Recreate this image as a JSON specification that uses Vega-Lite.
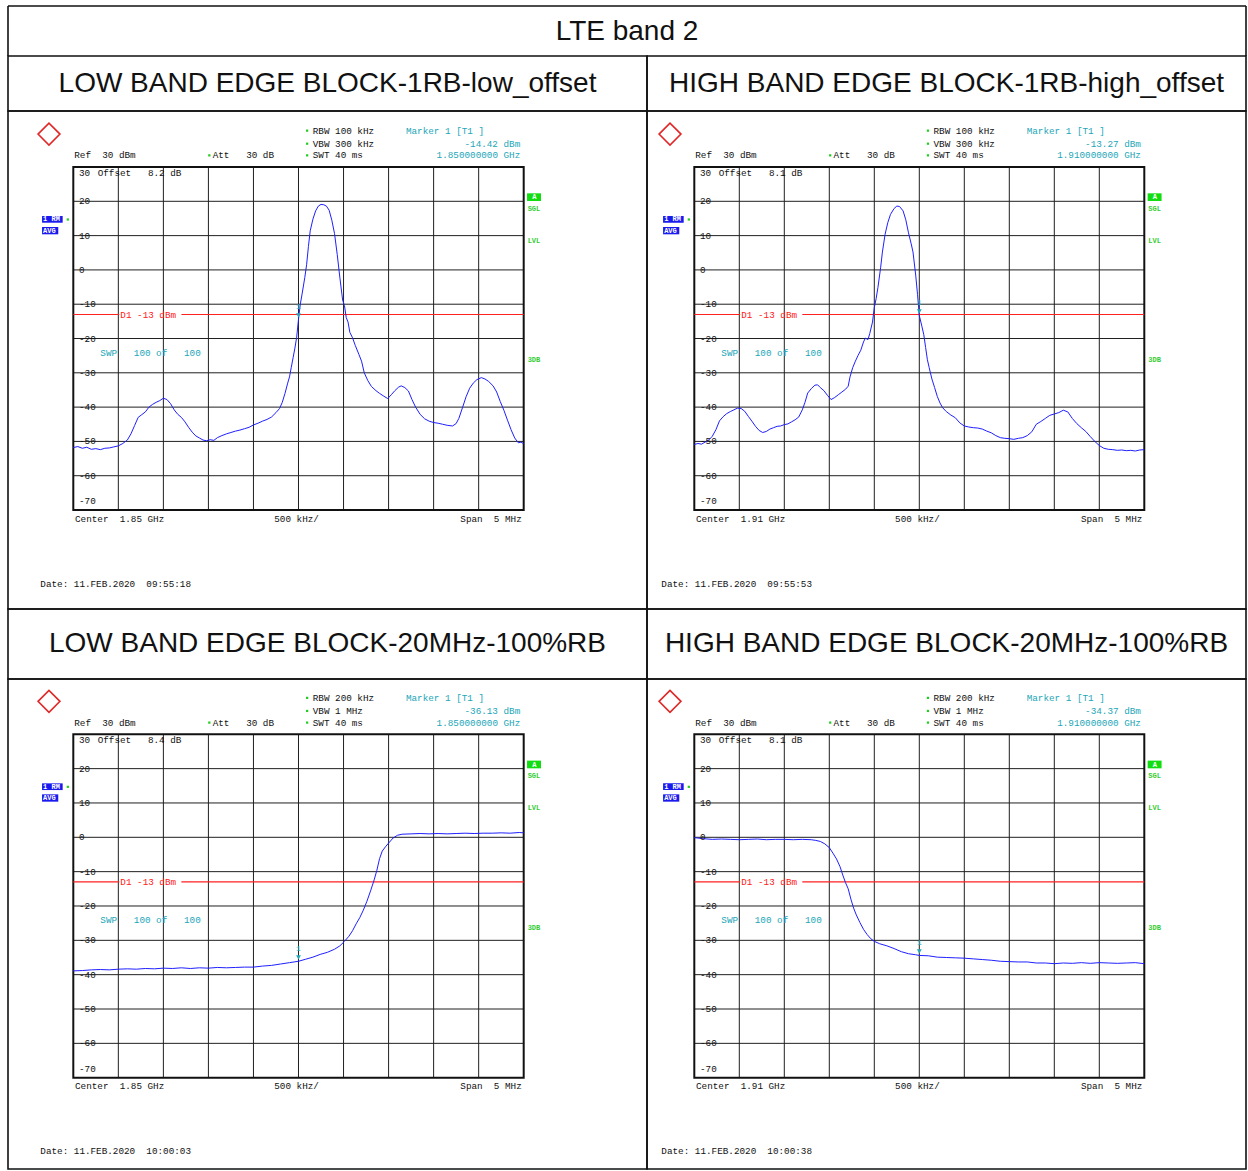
{
"$schema": "https://vega.github.io/schema/vega-lite/v6.json",
"padding": {"left": 7, "top": 5, "right": 3, "bottom": 3},
"background": "white",
"config": {"view": {"stroke": "#111111", "strokeWidth": 1.6}, "concat": {"spacing": 0}, "axis": {"disable": true}},
"datasets": {
"vlines": [{"f":-2.0},{"f":-1.5},{"f":-1.0},{"f":-0.5},{"f":0},{"f":0.5},{"f":1.0},{"f":1.5},{"f":2.0}],
"hlines": [{"L":20},{"L":10},{"L":0},{"L":-10},{"L":-20},{"L":-30},{"L":-40},{"L":-50},{"L":-60}],
"ylabels": [{"L":28.2,"lab":"30"},{"L":20,"lab":"20"},{"L":10,"lab":"10"},{"L":0,"lab":"0"},{"L":-10,"lab":"-10"},{"L":-20,"lab":"-20"},{"L":-30,"lab":"-30"},{"L":-40,"lab":"-40"},{"L":-50,"lab":"-50"},{"L":-60,"lab":"-60"},{"L":-67.4,"lab":"-70"}],
"limit": [{"f":-2.5,"f2":-1.99},{"f":-1.30,"f2":2.5}],
"boxes": [{"kind":"boxBlue","f":-2.847,"f2":-2.618,"L":15.71,"L2":13.76},{"kind":"boxBlue","f":-2.847,"f2":-2.667,"L":12.51,"L2":10.38},{"kind":"boxGreen","f":2.537,"f2":2.692,"L":22.33,"L2":20.09}],
"dots": [{"f":0.096,"L":40.6},{"f":0.096,"L":36.8},{"f":0.096,"L":33.4},{"f":-0.99,"L":33.4},{"f":-2.561,"L":14.7}],
"logo": [{"f":-2.77,"L":39.6}],
"notes": [
{"p":"all","kind":"ink","f":-2.489,"L":33.4,"text":"Ref\u00a0\u00a030 dBm"},
{"p":"all","kind":"ink","f":-0.953,"L":33.4,"text":"Att\u00a0\u00a0\u00a030 dB"},
{"p":"all","kind":"ink","f":0.158,"L":33.4,"text":"SWT 40 ms"},
{"p":"all","kind":"ink","f":-0.269,"L":-72.5,"text":"500 kHz/"},
{"p":"all","kind":"inkR","f":2.478,"L":-72.5,"text":"Span\u00a0\u00a05 MHz"},
{"p":"all","kind":"cyan","f":1.193,"L":40.6,"text":"Marker 1 [T1 ]"},
{"p":"all","kind":"cyan","f":-2.2,"L":-24.1,"text":"SWP\u00a0\u00a0\u00a0100 of\u00a0\u00a0\u00a0100"},
{"p":"all","kind":"red","f":-1.978,"L":-13,"text":"D1 -13 dBm"},
{"p":"all","kind":"green","f":2.544,"L":17.84,"text":"SGL"},
{"p":"all","kind":"green","f":2.544,"L":8.43,"text":"LVL"},
{"p":"all","kind":"green","f":2.544,"L":-26.3,"text":"3DB"},
{"p":"all","kind":"white","f":-2.835,"L":14.7,"text":"1 RM"},
{"p":"all","kind":"white","f":-2.835,"L":11.45,"text":"AVG"},
{"p":"all","kind":"white","f":2.595,"L":21.2,"text":"A"},
{"p":"TL","kind":"ink","f":0.158,"L":40.6,"text":"RBW 100 kHz"},
{"p":"TL","kind":"ink","f":0.158,"L":36.8,"text":"VBW 300 kHz"},
{"p":"TL","kind":"ink","f":-2.229,"L":28.2,"text":"Offset\u00a0\u00a0\u00a08.2 dB"},
{"p":"TL","kind":"ink","f":-2.481,"L":-72.5,"text":"Center\u00a0\u00a01.85 GHz"},
{"p":"TL","kind":"ink","f":-2.866,"L":-91.6,"text":"Date: 11.FEB.2020\u00a0\u00a009:55:18"},
{"p":"TL","kind":"cyanR","f":2.462,"L":36.8,"text":"-14.42 dBm"},
{"p":"TL","kind":"cyanR","f":2.462,"L":33.4,"text":"1.850000000 GHz"},
{"p":"TR","kind":"ink","f":0.158,"L":40.6,"text":"RBW 100 kHz"},
{"p":"TR","kind":"ink","f":0.158,"L":36.8,"text":"VBW 300 kHz"},
{"p":"TR","kind":"ink","f":-2.229,"L":28.2,"text":"Offset\u00a0\u00a0\u00a08.1 dB"},
{"p":"TR","kind":"ink","f":-2.481,"L":-72.5,"text":"Center\u00a0\u00a01.91 GHz"},
{"p":"TR","kind":"ink","f":-2.866,"L":-91.6,"text":"Date: 11.FEB.2020\u00a0\u00a009:55:53"},
{"p":"TR","kind":"cyanR","f":2.462,"L":36.8,"text":"-13.27 dBm"},
{"p":"TR","kind":"cyanR","f":2.462,"L":33.4,"text":"1.910000000 GHz"},
{"p":"BL","kind":"ink","f":0.158,"L":40.6,"text":"RBW 200 kHz"},
{"p":"BL","kind":"ink","f":0.158,"L":36.8,"text":"VBW 1 MHz"},
{"p":"BL","kind":"ink","f":-2.229,"L":28.2,"text":"Offset\u00a0\u00a0\u00a08.4 dB"},
{"p":"BL","kind":"ink","f":-2.481,"L":-72.5,"text":"Center\u00a0\u00a01.85 GHz"},
{"p":"BL","kind":"ink","f":-2.866,"L":-91.4,"text":"Date: 11.FEB.2020\u00a0\u00a010:00:03"},
{"p":"BL","kind":"cyanR","f":2.462,"L":36.8,"text":"-36.13 dBm"},
{"p":"BL","kind":"cyanR","f":2.462,"L":33.4,"text":"1.850000000 GHz"},
{"p":"BR","kind":"ink","f":0.158,"L":40.6,"text":"RBW 200 kHz"},
{"p":"BR","kind":"ink","f":0.158,"L":36.8,"text":"VBW 1 MHz"},
{"p":"BR","kind":"ink","f":-2.229,"L":28.2,"text":"Offset\u00a0\u00a0\u00a08.1 dB"},
{"p":"BR","kind":"ink","f":-2.481,"L":-72.5,"text":"Center\u00a0\u00a01.91 GHz"},
{"p":"BR","kind":"ink","f":-2.866,"L":-91.4,"text":"Date: 11.FEB.2020\u00a0\u00a010:00:38"},
{"p":"BR","kind":"cyanR","f":2.462,"L":36.8,"text":"-34.37 dBm"},
{"p":"BR","kind":"cyanR","f":2.462,"L":33.4,"text":"1.910000000 GHz"}
],
"markers": [{"p":"TL","f":0,"L":-14.42},{"p":"TR","f":0,"L":-13.27},{"p":"BL","f":0,"L":-36.13},{"p":"BR","f":0,"L":-34.37}],
"traces": [
{"p":"TL","f":-2.50,"L":-51.8},{"p":"TL","f":-2.45,"L":-51.5},{"p":"TL","f":-2.40,"L":-52.0},{"p":"TL","f":-2.35,"L":-51.7},{"p":"TL","f":-2.30,"L":-52.3},{"p":"TL","f":-2.25,"L":-52.1},{"p":"TL","f":-2.20,"L":-52.4},{"p":"TL","f":-2.15,"L":-52.0},{"p":"TL","f":-2.10,"L":-51.9},{"p":"TL","f":-2.05,"L":-51.6},{"p":"TL","f":-2.00,"L":-51.3},{"p":"TL","f":-1.95,"L":-50.6},{"p":"TL","f":-1.90,"L":-49.6},{"p":"TL","f":-1.86,"L":-47.8},{"p":"TL","f":-1.82,"L":-45.4},{"p":"TL","f":-1.78,"L":-43.0},{"p":"TL","f":-1.74,"L":-42.2},{"p":"TL","f":-1.70,"L":-41.4},{"p":"TL","f":-1.66,"L":-40.0},{"p":"TL","f":-1.62,"L":-39.2},{"p":"TL","f":-1.58,"L":-38.6},{"p":"TL","f":-1.54,"L":-38.1},{"p":"TL","f":-1.50,"L":-37.4},{"p":"TL","f":-1.46,"L":-37.8},{"p":"TL","f":-1.42,"L":-39.0},{"p":"TL","f":-1.38,"L":-40.8},{"p":"TL","f":-1.34,"L":-42.1},{"p":"TL","f":-1.30,"L":-43.0},{"p":"TL","f":-1.26,"L":-44.3},{"p":"TL","f":-1.22,"L":-45.9},{"p":"TL","f":-1.18,"L":-47.3},{"p":"TL","f":-1.14,"L":-48.4},{"p":"TL","f":-1.10,"L":-49.0},{"p":"TL","f":-1.06,"L":-49.6},{"p":"TL","f":-1.02,"L":-49.8},{"p":"TL","f":-0.98,"L":-49.5},{"p":"TL","f":-0.94,"L":-49.7},{"p":"TL","f":-0.90,"L":-48.9},{"p":"TL","f":-0.85,"L":-48.3},{"p":"TL","f":-0.80,"L":-47.8},{"p":"TL","f":-0.75,"L":-47.4},{"p":"TL","f":-0.70,"L":-47.0},{"p":"TL","f":-0.65,"L":-46.7},{"p":"TL","f":-0.60,"L":-46.3},{"p":"TL","f":-0.55,"L":-45.9},{"p":"TL","f":-0.50,"L":-45.2},{"p":"TL","f":-0.45,"L":-44.7},{"p":"TL","f":-0.40,"L":-44.1},{"p":"TL","f":-0.35,"L":-43.6},{"p":"TL","f":-0.30,"L":-42.9},{"p":"TL","f":-0.25,"L":-41.6},{"p":"TL","f":-0.21,"L":-40.4},{"p":"TL","f":-0.18,"L":-38.6},{"p":"TL","f":-0.15,"L":-36.0},{"p":"TL","f":-0.12,"L":-33.0},{"p":"TL","f":-0.10,"L":-31.2},{"p":"TL","f":-0.08,"L":-28.4},{"p":"TL","f":-0.06,"L":-25.6},{"p":"TL","f":-0.04,"L":-22.8},{"p":"TL","f":-0.02,"L":-19.6},{"p":"TL","f":0.00,"L":-14.4},{"p":"TL","f":0.02,"L":-10.0},{"p":"TL","f":0.04,"L":-7.0},{"p":"TL","f":0.07,"L":-2.2},{"p":"TL","f":0.09,"L":1.5},{"p":"TL","f":0.11,"L":6.8},{"p":"TL","f":0.13,"L":11.4},{"p":"TL","f":0.16,"L":14.8},{"p":"TL","f":0.19,"L":17.2},{"p":"TL","f":0.22,"L":18.6},{"p":"TL","f":0.25,"L":19.1},{"p":"TL","f":0.28,"L":19.0},{"p":"TL","f":0.31,"L":18.6},{"p":"TL","f":0.34,"L":17.4},{"p":"TL","f":0.37,"L":14.5},{"p":"TL","f":0.40,"L":10.6},{"p":"TL","f":0.43,"L":4.5},{"p":"TL","f":0.46,"L":-2.4},{"p":"TL","f":0.49,"L":-8.8},{"p":"TL","f":0.51,"L":-10.4},{"p":"TL","f":0.53,"L":-13.9},{"p":"TL","f":0.55,"L":-15.2},{"p":"TL","f":0.57,"L":-18.2},{"p":"TL","f":0.60,"L":-19.8},{"p":"TL","f":0.63,"L":-22.0},{"p":"TL","f":0.67,"L":-24.6},{"p":"TL","f":0.70,"L":-26.6},{"p":"TL","f":0.73,"L":-30.0},{"p":"TL","f":0.77,"L":-32.3},{"p":"TL","f":0.81,"L":-34.0},{"p":"TL","f":0.86,"L":-35.2},{"p":"TL","f":0.90,"L":-36.0},{"p":"TL","f":0.94,"L":-36.7},{"p":"TL","f":0.99,"L":-37.5},{"p":"TL","f":1.03,"L":-36.4},{"p":"TL","f":1.07,"L":-35.2},{"p":"TL","f":1.11,"L":-34.2},{"p":"TL","f":1.14,"L":-33.8},{"p":"TL","f":1.18,"L":-34.3},{"p":"TL","f":1.22,"L":-35.3},{"p":"TL","f":1.26,"L":-37.8},{"p":"TL","f":1.30,"L":-40.0},{"p":"TL","f":1.35,"L":-42.1},{"p":"TL","f":1.40,"L":-43.4},{"p":"TL","f":1.45,"L":-44.1},{"p":"TL","f":1.50,"L":-44.5},{"p":"TL","f":1.55,"L":-44.7},{"p":"TL","f":1.60,"L":-45.0},{"p":"TL","f":1.65,"L":-45.3},{"p":"TL","f":1.71,"L":-45.5},{"p":"TL","f":1.75,"L":-44.8},{"p":"TL","f":1.78,"L":-43.3},{"p":"TL","f":1.82,"L":-40.2},{"p":"TL","f":1.86,"L":-37.0},{"p":"TL","f":1.90,"L":-34.5},{"p":"TL","f":1.94,"L":-33.0},{"p":"TL","f":1.98,"L":-32.0},{"p":"TL","f":2.03,"L":-31.4},{"p":"TL","f":2.07,"L":-31.8},{"p":"TL","f":2.11,"L":-32.5},{"p":"TL","f":2.16,"L":-33.8},{"p":"TL","f":2.20,"L":-35.6},{"p":"TL","f":2.24,"L":-38.4},{"p":"TL","f":2.28,"L":-40.9},{"p":"TL","f":2.32,"L":-43.8},{"p":"TL","f":2.36,"L":-46.6},{"p":"TL","f":2.40,"L":-49.0},{"p":"TL","f":2.44,"L":-50.4},{"p":"TL","f":2.47,"L":-50.2},{"p":"TL","f":2.50,"L":-50.7},
{"p":"TR","f":-2.50,"L":-50.9},{"p":"TR","f":-2.46,"L":-50.6},{"p":"TR","f":-2.42,"L":-50.8},{"p":"TR","f":-2.38,"L":-50.2},{"p":"TR","f":-2.34,"L":-49.6},{"p":"TR","f":-2.30,"L":-48.5},{"p":"TR","f":-2.26,"L":-46.6},{"p":"TR","f":-2.22,"L":-44.0},{"p":"TR","f":-2.18,"L":-42.8},{"p":"TR","f":-2.14,"L":-41.9},{"p":"TR","f":-2.10,"L":-41.3},{"p":"TR","f":-2.06,"L":-40.8},{"p":"TR","f":-2.02,"L":-40.3},{"p":"TR","f":-1.98,"L":-40.4},{"p":"TR","f":-1.94,"L":-41.2},{"p":"TR","f":-1.90,"L":-42.7},{"p":"TR","f":-1.86,"L":-44.1},{"p":"TR","f":-1.82,"L":-45.6},{"p":"TR","f":-1.78,"L":-46.8},{"p":"TR","f":-1.74,"L":-47.4},{"p":"TR","f":-1.70,"L":-47.1},{"p":"TR","f":-1.66,"L":-46.4},{"p":"TR","f":-1.62,"L":-46.0},{"p":"TR","f":-1.58,"L":-45.6},{"p":"TR","f":-1.54,"L":-45.5},{"p":"TR","f":-1.50,"L":-45.1},{"p":"TR","f":-1.46,"L":-44.9},{"p":"TR","f":-1.42,"L":-44.3},{"p":"TR","f":-1.38,"L":-43.7},{"p":"TR","f":-1.34,"L":-42.9},{"p":"TR","f":-1.30,"L":-40.8},{"p":"TR","f":-1.27,"L":-38.6},{"p":"TR","f":-1.24,"L":-35.9},{"p":"TR","f":-1.20,"L":-34.6},{"p":"TR","f":-1.16,"L":-33.6},{"p":"TR","f":-1.13,"L":-33.5},{"p":"TR","f":-1.10,"L":-34.3},{"p":"TR","f":-1.06,"L":-35.2},{"p":"TR","f":-1.02,"L":-36.6},{"p":"TR","f":-0.98,"L":-37.8},{"p":"TR","f":-0.94,"L":-37.2},{"p":"TR","f":-0.90,"L":-36.4},{"p":"TR","f":-0.86,"L":-35.6},{"p":"TR","f":-0.82,"L":-34.8},{"p":"TR","f":-0.79,"L":-33.9},{"p":"TR","f":-0.77,"L":-31.2},{"p":"TR","f":-0.74,"L":-28.5},{"p":"TR","f":-0.71,"L":-26.6},{"p":"TR","f":-0.68,"L":-24.9},{"p":"TR","f":-0.65,"L":-23.4},{"p":"TR","f":-0.62,"L":-21.0},{"p":"TR","f":-0.60,"L":-19.9},{"p":"TR","f":-0.57,"L":-20.3},{"p":"TR","f":-0.55,"L":-18.5},{"p":"TR","f":-0.52,"L":-15.2},{"p":"TR","f":-0.50,"L":-11.0},{"p":"TR","f":-0.48,"L":-8.4},{"p":"TR","f":-0.46,"L":-5.2},{"p":"TR","f":-0.43,"L":0.6},{"p":"TR","f":-0.41,"L":5.2},{"p":"TR","f":-0.38,"L":10.4},{"p":"TR","f":-0.35,"L":13.8},{"p":"TR","f":-0.32,"L":16.2},{"p":"TR","f":-0.28,"L":17.9},{"p":"TR","f":-0.25,"L":18.6},{"p":"TR","f":-0.22,"L":18.5},{"p":"TR","f":-0.18,"L":17.2},{"p":"TR","f":-0.15,"L":14.6},{"p":"TR","f":-0.12,"L":10.8},{"p":"TR","f":-0.09,"L":7.6},{"p":"TR","f":-0.07,"L":5.2},{"p":"TR","f":-0.04,"L":-1.5},{"p":"TR","f":-0.02,"L":-7.1},{"p":"TR","f":0.00,"L":-13.3},{"p":"TR","f":0.03,"L":-16.6},{"p":"TR","f":0.05,"L":-18.9},{"p":"TR","f":0.07,"L":-22.6},{"p":"TR","f":0.09,"L":-26.2},{"p":"TR","f":0.11,"L":-28.5},{"p":"TR","f":0.14,"L":-31.8},{"p":"TR","f":0.17,"L":-34.3},{"p":"TR","f":0.20,"L":-36.9},{"p":"TR","f":0.23,"L":-38.8},{"p":"TR","f":0.26,"L":-40.2},{"p":"TR","f":0.30,"L":-41.3},{"p":"TR","f":0.35,"L":-42.3},{"p":"TR","f":0.40,"L":-43.1},{"p":"TR","f":0.45,"L":-44.6},{"p":"TR","f":0.50,"L":-45.5},{"p":"TR","f":0.55,"L":-45.8},{"p":"TR","f":0.60,"L":-46.0},{"p":"TR","f":0.65,"L":-46.1},{"p":"TR","f":0.70,"L":-46.4},{"p":"TR","f":0.75,"L":-47.0},{"p":"TR","f":0.80,"L":-47.5},{"p":"TR","f":0.85,"L":-48.3},{"p":"TR","f":0.90,"L":-48.9},{"p":"TR","f":0.95,"L":-49.1},{"p":"TR","f":1.00,"L":-49.2},{"p":"TR","f":1.05,"L":-49.4},{"p":"TR","f":1.10,"L":-49.1},{"p":"TR","f":1.15,"L":-48.9},{"p":"TR","f":1.20,"L":-48.3},{"p":"TR","f":1.25,"L":-47.2},{"p":"TR","f":1.30,"L":-45.0},{"p":"TR","f":1.35,"L":-44.2},{"p":"TR","f":1.40,"L":-43.3},{"p":"TR","f":1.45,"L":-42.4},{"p":"TR","f":1.50,"L":-42.0},{"p":"TR","f":1.55,"L":-41.6},{"p":"TR","f":1.60,"L":-40.9},{"p":"TR","f":1.65,"L":-41.4},{"p":"TR","f":1.70,"L":-43.3},{"p":"TR","f":1.75,"L":-44.8},{"p":"TR","f":1.80,"L":-46.0},{"p":"TR","f":1.85,"L":-47.1},{"p":"TR","f":1.90,"L":-48.6},{"p":"TR","f":1.95,"L":-50.0},{"p":"TR","f":2.00,"L":-51.2},{"p":"TR","f":2.05,"L":-52.0},{"p":"TR","f":2.10,"L":-52.3},{"p":"TR","f":2.15,"L":-52.4},{"p":"TR","f":2.20,"L":-52.6},{"p":"TR","f":2.25,"L":-52.5},{"p":"TR","f":2.30,"L":-52.7},{"p":"TR","f":2.35,"L":-52.6},{"p":"TR","f":2.40,"L":-52.8},{"p":"TR","f":2.45,"L":-52.5},{"p":"TR","f":2.50,"L":-52.4},
{"p":"BL","f":-2.50,"L":-38.9},{"p":"BL","f":-2.40,"L":-38.8},{"p":"BL","f":-2.30,"L":-38.6},{"p":"BL","f":-2.20,"L":-38.5},{"p":"BL","f":-2.10,"L":-38.6},{"p":"BL","f":-2.00,"L":-38.4},{"p":"BL","f":-1.90,"L":-38.3},{"p":"BL","f":-1.80,"L":-38.4},{"p":"BL","f":-1.70,"L":-38.2},{"p":"BL","f":-1.60,"L":-38.3},{"p":"BL","f":-1.50,"L":-38.1},{"p":"BL","f":-1.40,"L":-38.2},{"p":"BL","f":-1.30,"L":-38.0},{"p":"BL","f":-1.20,"L":-38.2},{"p":"BL","f":-1.10,"L":-38.0},{"p":"BL","f":-1.00,"L":-38.1},{"p":"BL","f":-0.90,"L":-37.9},{"p":"BL","f":-0.80,"L":-38.0},{"p":"BL","f":-0.70,"L":-37.9},{"p":"BL","f":-0.60,"L":-37.8},{"p":"BL","f":-0.50,"L":-37.8},{"p":"BL","f":-0.40,"L":-37.5},{"p":"BL","f":-0.30,"L":-37.3},{"p":"BL","f":-0.20,"L":-36.9},{"p":"BL","f":-0.10,"L":-36.5},{"p":"BL","f":0.00,"L":-36.1},{"p":"BL","f":0.08,"L":-35.5},{"p":"BL","f":0.16,"L":-34.9},{"p":"BL","f":0.24,"L":-34.1},{"p":"BL","f":0.32,"L":-33.5},{"p":"BL","f":0.40,"L":-32.6},{"p":"BL","f":0.46,"L":-31.6},{"p":"BL","f":0.51,"L":-30.3},{"p":"BL","f":0.56,"L":-28.8},{"p":"BL","f":0.60,"L":-27.2},{"p":"BL","f":0.64,"L":-25.2},{"p":"BL","f":0.68,"L":-23.4},{"p":"BL","f":0.72,"L":-21.2},{"p":"BL","f":0.76,"L":-18.6},{"p":"BL","f":0.80,"L":-15.6},{"p":"BL","f":0.84,"L":-12.4},{"p":"BL","f":0.87,"L":-9.6},{"p":"BL","f":0.90,"L":-6.2},{"p":"BL","f":0.93,"L":-4.0},{"p":"BL","f":0.97,"L":-2.6},{"p":"BL","f":1.01,"L":-1.4},{"p":"BL","f":1.05,"L":-0.2},{"p":"BL","f":1.10,"L":0.6},{"p":"BL","f":1.15,"L":0.9},{"p":"BL","f":1.25,"L":1.0},{"p":"BL","f":1.35,"L":1.1},{"p":"BL","f":1.45,"L":1.0},{"p":"BL","f":1.55,"L":1.1},{"p":"BL","f":1.65,"L":1.0},{"p":"BL","f":1.75,"L":1.1},{"p":"BL","f":1.85,"L":1.2},{"p":"BL","f":1.95,"L":1.1},{"p":"BL","f":2.05,"L":1.2},{"p":"BL","f":2.15,"L":1.2},{"p":"BL","f":2.25,"L":1.3},{"p":"BL","f":2.35,"L":1.2},{"p":"BL","f":2.45,"L":1.4},{"p":"BL","f":2.50,"L":1.3},
{"p":"BR","f":-2.50,"L":-0.1},{"p":"BR","f":-2.40,"L":-0.4},{"p":"BR","f":-2.30,"L":-0.6},{"p":"BR","f":-2.20,"L":-0.5},{"p":"BR","f":-2.10,"L":-0.6},{"p":"BR","f":-2.00,"L":-0.7},{"p":"BR","f":-1.90,"L":-0.6},{"p":"BR","f":-1.80,"L":-0.5},{"p":"BR","f":-1.70,"L":-0.7},{"p":"BR","f":-1.60,"L":-0.6},{"p":"BR","f":-1.50,"L":-0.6},{"p":"BR","f":-1.40,"L":-0.7},{"p":"BR","f":-1.30,"L":-0.6},{"p":"BR","f":-1.20,"L":-0.7},{"p":"BR","f":-1.15,"L":-0.9},{"p":"BR","f":-1.10,"L":-1.2},{"p":"BR","f":-1.05,"L":-1.9},{"p":"BR","f":-1.00,"L":-3.0},{"p":"BR","f":-0.96,"L":-4.6},{"p":"BR","f":-0.92,"L":-6.3},{"p":"BR","f":-0.88,"L":-8.6},{"p":"BR","f":-0.85,"L":-11.0},{"p":"BR","f":-0.82,"L":-13.2},{"p":"BR","f":-0.79,"L":-15.0},{"p":"BR","f":-0.76,"L":-18.0},{"p":"BR","f":-0.73,"L":-20.6},{"p":"BR","f":-0.70,"L":-22.6},{"p":"BR","f":-0.66,"L":-24.8},{"p":"BR","f":-0.62,"L":-26.8},{"p":"BR","f":-0.58,"L":-28.3},{"p":"BR","f":-0.54,"L":-29.5},{"p":"BR","f":-0.50,"L":-30.3},{"p":"BR","f":-0.44,"L":-31.0},{"p":"BR","f":-0.36,"L":-31.6},{"p":"BR","f":-0.28,"L":-32.4},{"p":"BR","f":-0.20,"L":-33.3},{"p":"BR","f":-0.12,"L":-33.9},{"p":"BR","f":-0.04,"L":-34.2},{"p":"BR","f":0.00,"L":-34.4},{"p":"BR","f":0.10,"L":-34.5},{"p":"BR","f":0.20,"L":-34.9},{"p":"BR","f":0.30,"L":-35.0},{"p":"BR","f":0.40,"L":-35.1},{"p":"BR","f":0.50,"L":-35.2},{"p":"BR","f":0.60,"L":-35.4},{"p":"BR","f":0.70,"L":-35.6},{"p":"BR","f":0.80,"L":-35.8},{"p":"BR","f":0.90,"L":-36.1},{"p":"BR","f":1.00,"L":-36.2},{"p":"BR","f":1.10,"L":-36.3},{"p":"BR","f":1.20,"L":-36.3},{"p":"BR","f":1.30,"L":-36.6},{"p":"BR","f":1.40,"L":-36.6},{"p":"BR","f":1.50,"L":-36.8},{"p":"BR","f":1.60,"L":-36.6},{"p":"BR","f":1.70,"L":-36.7},{"p":"BR","f":1.80,"L":-36.5},{"p":"BR","f":1.90,"L":-36.7},{"p":"BR","f":2.00,"L":-36.5},{"p":"BR","f":2.10,"L":-36.6},{"p":"BR","f":2.20,"L":-36.7},{"p":"BR","f":2.30,"L":-36.6},{"p":"BR","f":2.40,"L":-36.5},{"p":"BR","f":2.50,"L":-36.8}
]
},
"concat": [
{"width": 639, "height": 50, "view": {"stroke": null}, "layer": [
{"data": {"values": [{"a": 0, "b": 1}]}, "mark": {"type": "rule", "color": "#111111", "strokeWidth": 1.6}, "encoding": {"x": {"field": "a", "type": "quantitative", "scale": {"domain": [0, 1], "nice": false, "zero": false}, "axis": null}, "x2": {"field": "b"}, "y": {"field": "b", "type": "quantitative", "scale": {"domain": [0, 1], "nice": false, "zero": false}, "axis": null}}},
{"data": {"values": [{"a": 0, "b": 1}]}, "mark": {"type": "rule", "color": "#111111", "strokeWidth": 1.6}, "encoding": {"x": {"field": "a", "type": "quantitative", "axis": null}, "y": {"field": "a", "type": "quantitative", "axis": null}, "y2": {"field": "b"}}},
{"data": {"values": [{"t": "LTE band 2", "pos": 0.9687, "mid": 0.48}]}, "mark": {"type": "text", "font": "Liberation Sans", "fontSize": 28, "color": "#111111", "align": "center", "baseline": "middle"}, "encoding": {"x": {"field": "pos", "type": "quantitative", "axis": null}, "y": {"field": "mid", "type": "quantitative", "axis": null}, "text": {"field": "t"}}}
]},
{"width": 599, "height": 50, "view": {"stroke": null}, "layer": [
{"data": {"values": [{"a": 0, "b": 1}]}, "mark": {"type": "rule", "color": "#111111", "strokeWidth": 1.6}, "encoding": {"x": {"field": "a", "type": "quantitative", "scale": {"domain": [0, 1], "nice": false, "zero": false}, "axis": null}, "x2": {"field": "b"}, "y": {"field": "b", "type": "quantitative", "scale": {"domain": [0, 1], "nice": false, "zero": false}, "axis": null}}},
{"data": {"values": [{"a": 0, "b": 1}]}, "mark": {"type": "rule", "color": "#111111", "strokeWidth": 1.6}, "encoding": {"x": {"field": "b", "type": "quantitative", "axis": null}, "y": {"field": "a", "type": "quantitative", "axis": null}, "y2": {"field": "b"}}}
]},
{"width": 639, "height": 55, "data": {"values": [{"t": "LOW BAND EDGE BLOCK-1RB-low_offset"}]}, "mark": {"type": "text", "font": "Liberation Sans", "fontSize": 28, "color": "#111111"}, "encoding": {"x": {"field": "t", "type": "nominal", "axis": null}, "y": {"field": "t", "type": "nominal", "axis": null}, "text": {"field": "t"}}},
{"width": 599, "height": 55, "data": {"values": [{"t": "HIGH BAND EDGE BLOCK-1RB-high_offset"}]}, "mark": {"type": "text", "font": "Liberation Sans", "fontSize": 28, "color": "#111111"}, "encoding": {"x": {"field": "t", "type": "nominal", "axis": null}, "y": {"field": "t", "type": "nominal", "axis": null}, "text": {"field": "t"}}},
{"width": 639, "height": 498, "layer": [
{"data": {"name": "vlines"}, "mark": {"type": "rule", "color": "#202020", "strokeWidth": 1}, "encoding": {"x": {"field": "f", "type": "quantitative", "scale": {"domain": [-3.2249, 3.8688], "nice": false, "zero": false}, "axis": null}, "y": {"datum": -70, "type": "quantitative", "scale": {"domain": [-98.86, 46.33], "nice": false, "zero": false}, "axis": null}, "y2": {"datum": 30}}},
{"data": {"name": "hlines"}, "mark": {"type": "rule", "color": "#202020", "strokeWidth": 1}, "encoding": {"x": {"datum": -2.5, "type": "quantitative", "axis": null}, "x2": {"datum": 2.5}, "y": {"field": "L", "type": "quantitative", "axis": null}}},
{"data": {"values": [{}]}, "mark": {"type": "rect", "filled": false, "color": "#111111", "strokeWidth": 2}, "encoding": {"x": {"datum": -2.5, "type": "quantitative", "axis": null}, "x2": {"datum": 2.5}, "y": {"datum": -70, "type": "quantitative", "axis": null}, "y2": {"datum": 30}}},
{"data": {"name": "limit"}, "mark": {"type": "rule", "color": "#ff2020", "strokeWidth": 1.2}, "encoding": {"x": {"field": "f", "type": "quantitative", "axis": null}, "x2": {"field": "f2"}, "y": {"datum": -13, "type": "quantitative", "axis": null}}},
{"data": {"name": "traces"}, "transform": [{"filter": "datum.p == 'TL'"}], "mark": {"type": "line", "color": "#1f1fff", "strokeWidth": 1}, "encoding": {"x": {"field": "f", "type": "quantitative", "axis": null}, "y": {"field": "L", "type": "quantitative", "axis": null}}},
{"data": {"name": "markers"}, "transform": [{"filter": "datum.p == 'TL'"}], "mark": {"type": "point", "shape": "triangle-down", "filled": true, "opacity": 1, "color": "#22a6b8", "size": 24, "yOffset": -4}, "encoding": {"x": {"field": "f", "type": "quantitative", "axis": null}, "y": {"field": "L", "type": "quantitative", "axis": null}}},
{"data": {"name": "markers"}, "transform": [{"filter": "datum.p == 'TL'"}], "mark": {"type": "text", "text": "1", "dy": -12, "color": "#22a6b8", "font": "Liberation Mono", "fontSize": 8}, "encoding": {"x": {"field": "f", "type": "quantitative", "axis": null}, "y": {"field": "L", "type": "quantitative", "axis": null}}},
{"data": {"name": "boxes"}, "mark": {"type": "rect"}, "encoding": {"x": {"field": "f", "type": "quantitative", "axis": null}, "x2": {"field": "f2"}, "y": {"field": "L", "type": "quantitative", "axis": null}, "y2": {"field": "L2"}, "color": {"field": "kind", "type": "nominal", "legend": null, "scale": {"domain": ["ink","inkR","cyan","cyanR","red","green","white","boxBlue","boxGreen"], "range": ["#111111","#111111","#22a6b8","#22a6b8","#ff2020","#33cc33","#ffffff","#1a1aee","#11dd11"]}}}},
{"data": {"name": "dots"}, "mark": {"type": "square", "size": 5, "color": "#22cc22", "opacity": 1}, "encoding": {"x": {"field": "f", "type": "quantitative", "axis": null}, "y": {"field": "L", "type": "quantitative", "axis": null}}},
{"data": {"name": "logo"}, "mark": {"type": "point", "shape": "diamond", "size": 480, "color": "#e02828", "strokeWidth": 1.6, "opacity": 1}, "encoding": {"x": {"field": "f", "type": "quantitative", "axis": null}, "y": {"field": "L", "type": "quantitative", "axis": null}}},
{"data": {"name": "ylabels"}, "mark": {"type": "text", "align": "left", "baseline": "middle", "font": "Liberation Mono", "fontSize": 9.3, "color": "#111111"}, "encoding": {"x": {"datum": -2.437, "type": "quantitative", "axis": null}, "y": {"field": "L", "type": "quantitative", "axis": null}, "text": {"field": "lab"}}},
{"data": {"name": "notes"}, "transform": [{"filter": "(datum.p == 'all' || datum.p == 'TL') && indexof(['ink','cyan','red'], datum.kind) >= 0"}], "mark": {"type": "text", "align": "left", "baseline": "middle", "font": "Liberation Mono", "fontSize": 9.3}, "encoding": {"x": {"field": "f", "type": "quantitative", "axis": null}, "y": {"field": "L", "type": "quantitative", "axis": null}, "text": {"field": "text"}, "color": {"field": "kind", "type": "nominal", "legend": null, "scale": {"domain": ["ink","inkR","cyan","cyanR","red","green","white","boxBlue","boxGreen"], "range": ["#111111","#111111","#22a6b8","#22a6b8","#ff2020","#33cc33","#ffffff","#1a1aee","#11dd11"]}}}},
{"data": {"name": "notes"}, "transform": [{"filter": "(datum.p == 'all' || datum.p == 'TL') && indexof(['inkR','cyanR'], datum.kind) >= 0"}], "mark": {"type": "text", "align": "right", "baseline": "middle", "font": "Liberation Mono", "fontSize": 9.3}, "encoding": {"x": {"field": "f", "type": "quantitative", "axis": null}, "y": {"field": "L", "type": "quantitative", "axis": null}, "text": {"field": "text"}, "color": {"field": "kind", "type": "nominal", "legend": null, "scale": {"domain": ["ink","inkR","cyan","cyanR","red","green","white","boxBlue","boxGreen"], "range": ["#111111","#111111","#22a6b8","#22a6b8","#ff2020","#33cc33","#ffffff","#1a1aee","#11dd11"]}}}},
{"data": {"name": "notes"}, "transform": [{"filter": "(datum.p == 'all' || datum.p == 'TL') && indexof(['green','white'], datum.kind) >= 0"}], "mark": {"type": "text", "align": "left", "baseline": "middle", "font": "Liberation Mono", "fontSize": 7, "fontWeight": "bold"}, "encoding": {"x": {"field": "f", "type": "quantitative", "axis": null}, "y": {"field": "L", "type": "quantitative", "axis": null}, "text": {"field": "text"}, "color": {"field": "kind", "type": "nominal", "legend": null, "scale": {"domain": ["ink","inkR","cyan","cyanR","red","green","white","boxBlue","boxGreen"], "range": ["#111111","#111111","#22a6b8","#22a6b8","#ff2020","#33cc33","#ffffff","#1a1aee","#11dd11"]}}}}
]},
{"width": 599, "height": 498, "layer": [
{"data": {"name": "vlines"}, "mark": {"type": "rule", "color": "#202020", "strokeWidth": 1}, "encoding": {"x": {"field": "f", "type": "quantitative", "scale": {"domain": [-3.0256, 3.63], "nice": false, "zero": false}, "axis": null}, "y": {"datum": -70, "type": "quantitative", "scale": {"domain": [-98.86, 46.33], "nice": false, "zero": false}, "axis": null}, "y2": {"datum": 30}}},
{"data": {"name": "hlines"}, "mark": {"type": "rule", "color": "#202020", "strokeWidth": 1}, "encoding": {"x": {"datum": -2.5, "type": "quantitative", "axis": null}, "x2": {"datum": 2.5}, "y": {"field": "L", "type": "quantitative", "axis": null}}},
{"data": {"values": [{}]}, "mark": {"type": "rect", "filled": false, "color": "#111111", "strokeWidth": 2}, "encoding": {"x": {"datum": -2.5, "type": "quantitative", "axis": null}, "x2": {"datum": 2.5}, "y": {"datum": -70, "type": "quantitative", "axis": null}, "y2": {"datum": 30}}},
{"data": {"name": "limit"}, "mark": {"type": "rule", "color": "#ff2020", "strokeWidth": 1.2}, "encoding": {"x": {"field": "f", "type": "quantitative", "axis": null}, "x2": {"field": "f2"}, "y": {"datum": -13, "type": "quantitative", "axis": null}}},
{"data": {"name": "traces"}, "transform": [{"filter": "datum.p == 'TR'"}], "mark": {"type": "line", "color": "#1f1fff", "strokeWidth": 1}, "encoding": {"x": {"field": "f", "type": "quantitative", "axis": null}, "y": {"field": "L", "type": "quantitative", "axis": null}}},
{"data": {"name": "markers"}, "transform": [{"filter": "datum.p == 'TR'"}], "mark": {"type": "point", "shape": "triangle-down", "filled": true, "opacity": 1, "color": "#22a6b8", "size": 24, "yOffset": -4}, "encoding": {"x": {"field": "f", "type": "quantitative", "axis": null}, "y": {"field": "L", "type": "quantitative", "axis": null}}},
{"data": {"name": "markers"}, "transform": [{"filter": "datum.p == 'TR'"}], "mark": {"type": "text", "text": "1", "dy": -12, "color": "#22a6b8", "font": "Liberation Mono", "fontSize": 8}, "encoding": {"x": {"field": "f", "type": "quantitative", "axis": null}, "y": {"field": "L", "type": "quantitative", "axis": null}}},
{"data": {"name": "boxes"}, "mark": {"type": "rect"}, "encoding": {"x": {"field": "f", "type": "quantitative", "axis": null}, "x2": {"field": "f2"}, "y": {"field": "L", "type": "quantitative", "axis": null}, "y2": {"field": "L2"}, "color": {"field": "kind", "type": "nominal", "legend": null, "scale": {"domain": ["ink","inkR","cyan","cyanR","red","green","white","boxBlue","boxGreen"], "range": ["#111111","#111111","#22a6b8","#22a6b8","#ff2020","#33cc33","#ffffff","#1a1aee","#11dd11"]}}}},
{"data": {"name": "dots"}, "mark": {"type": "square", "size": 5, "color": "#22cc22", "opacity": 1}, "encoding": {"x": {"field": "f", "type": "quantitative", "axis": null}, "y": {"field": "L", "type": "quantitative", "axis": null}}},
{"data": {"name": "logo"}, "mark": {"type": "point", "shape": "diamond", "size": 480, "color": "#e02828", "strokeWidth": 1.6, "opacity": 1}, "encoding": {"x": {"field": "f", "type": "quantitative", "axis": null}, "y": {"field": "L", "type": "quantitative", "axis": null}}},
{"data": {"name": "ylabels"}, "mark": {"type": "text", "align": "left", "baseline": "middle", "font": "Liberation Mono", "fontSize": 9.3, "color": "#111111"}, "encoding": {"x": {"datum": -2.437, "type": "quantitative", "axis": null}, "y": {"field": "L", "type": "quantitative", "axis": null}, "text": {"field": "lab"}}},
{"data": {"name": "notes"}, "transform": [{"filter": "(datum.p == 'all' || datum.p == 'TR') && indexof(['ink','cyan','red'], datum.kind) >= 0"}], "mark": {"type": "text", "align": "left", "baseline": "middle", "font": "Liberation Mono", "fontSize": 9.3}, "encoding": {"x": {"field": "f", "type": "quantitative", "axis": null}, "y": {"field": "L", "type": "quantitative", "axis": null}, "text": {"field": "text"}, "color": {"field": "kind", "type": "nominal", "legend": null, "scale": {"domain": ["ink","inkR","cyan","cyanR","red","green","white","boxBlue","boxGreen"], "range": ["#111111","#111111","#22a6b8","#22a6b8","#ff2020","#33cc33","#ffffff","#1a1aee","#11dd11"]}}}},
{"data": {"name": "notes"}, "transform": [{"filter": "(datum.p == 'all' || datum.p == 'TR') && indexof(['inkR','cyanR'], datum.kind) >= 0"}], "mark": {"type": "text", "align": "right", "baseline": "middle", "font": "Liberation Mono", "fontSize": 9.3}, "encoding": {"x": {"field": "f", "type": "quantitative", "axis": null}, "y": {"field": "L", "type": "quantitative", "axis": null}, "text": {"field": "text"}, "color": {"field": "kind", "type": "nominal", "legend": null, "scale": {"domain": ["ink","inkR","cyan","cyanR","red","green","white","boxBlue","boxGreen"], "range": ["#111111","#111111","#22a6b8","#22a6b8","#ff2020","#33cc33","#ffffff","#1a1aee","#11dd11"]}}}},
{"data": {"name": "notes"}, "transform": [{"filter": "(datum.p == 'all' || datum.p == 'TR') && indexof(['green','white'], datum.kind) >= 0"}], "mark": {"type": "text", "align": "left", "baseline": "middle", "font": "Liberation Mono", "fontSize": 7, "fontWeight": "bold"}, "encoding": {"x": {"field": "f", "type": "quantitative", "axis": null}, "y": {"field": "L", "type": "quantitative", "axis": null}, "text": {"field": "text"}, "color": {"field": "kind", "type": "nominal", "legend": null, "scale": {"domain": ["ink","inkR","cyan","cyanR","red","green","white","boxBlue","boxGreen"], "range": ["#111111","#111111","#22a6b8","#22a6b8","#ff2020","#33cc33","#ffffff","#1a1aee","#11dd11"]}}}}
]},
{"width": 639, "height": 70, "data": {"values": [{"t": "LOW BAND EDGE BLOCK-20MHz-100%RB"}]}, "mark": {"type": "text", "font": "Liberation Sans", "fontSize": 28, "color": "#111111"}, "encoding": {"x": {"field": "t", "type": "nominal", "axis": null}, "y": {"field": "t", "type": "nominal", "axis": null}, "text": {"field": "t"}}},
{"width": 599, "height": 70, "data": {"values": [{"t": "HIGH BAND EDGE BLOCK-20MHz-100%RB"}]}, "mark": {"type": "text", "font": "Liberation Sans", "fontSize": 28, "color": "#111111"}, "encoding": {"x": {"field": "t", "type": "nominal", "axis": null}, "y": {"field": "t", "type": "nominal", "axis": null}, "text": {"field": "t"}}},
{"width": 639, "height": 490, "layer": [
{"data": {"name": "vlines"}, "mark": {"type": "rule", "color": "#202020", "strokeWidth": 1}, "encoding": {"x": {"field": "f", "type": "quantitative", "scale": {"domain": [-3.2249, 3.8688], "nice": false, "zero": false}, "axis": null}, "y": {"datum": -70, "type": "quantitative", "scale": {"domain": [-96.59, 46.10], "nice": false, "zero": false}, "axis": null}, "y2": {"datum": 30}}},
{"data": {"name": "hlines"}, "mark": {"type": "rule", "color": "#202020", "strokeWidth": 1}, "encoding": {"x": {"datum": -2.5, "type": "quantitative", "axis": null}, "x2": {"datum": 2.5}, "y": {"field": "L", "type": "quantitative", "axis": null}}},
{"data": {"values": [{}]}, "mark": {"type": "rect", "filled": false, "color": "#111111", "strokeWidth": 2}, "encoding": {"x": {"datum": -2.5, "type": "quantitative", "axis": null}, "x2": {"datum": 2.5}, "y": {"datum": -70, "type": "quantitative", "axis": null}, "y2": {"datum": 30}}},
{"data": {"name": "limit"}, "mark": {"type": "rule", "color": "#ff2020", "strokeWidth": 1.2}, "encoding": {"x": {"field": "f", "type": "quantitative", "axis": null}, "x2": {"field": "f2"}, "y": {"datum": -13, "type": "quantitative", "axis": null}}},
{"data": {"name": "traces"}, "transform": [{"filter": "datum.p == 'BL'"}], "mark": {"type": "line", "color": "#1f1fff", "strokeWidth": 1}, "encoding": {"x": {"field": "f", "type": "quantitative", "axis": null}, "y": {"field": "L", "type": "quantitative", "axis": null}}},
{"data": {"name": "markers"}, "transform": [{"filter": "datum.p == 'BL'"}], "mark": {"type": "point", "shape": "triangle-down", "filled": true, "opacity": 1, "color": "#22a6b8", "size": 24, "yOffset": -4}, "encoding": {"x": {"field": "f", "type": "quantitative", "axis": null}, "y": {"field": "L", "type": "quantitative", "axis": null}}},
{"data": {"name": "markers"}, "transform": [{"filter": "datum.p == 'BL'"}], "mark": {"type": "text", "text": "1", "dy": -12, "color": "#22a6b8", "font": "Liberation Mono", "fontSize": 8}, "encoding": {"x": {"field": "f", "type": "quantitative", "axis": null}, "y": {"field": "L", "type": "quantitative", "axis": null}}},
{"data": {"name": "boxes"}, "mark": {"type": "rect"}, "encoding": {"x": {"field": "f", "type": "quantitative", "axis": null}, "x2": {"field": "f2"}, "y": {"field": "L", "type": "quantitative", "axis": null}, "y2": {"field": "L2"}, "color": {"field": "kind", "type": "nominal", "legend": null, "scale": {"domain": ["ink","inkR","cyan","cyanR","red","green","white","boxBlue","boxGreen"], "range": ["#111111","#111111","#22a6b8","#22a6b8","#ff2020","#33cc33","#ffffff","#1a1aee","#11dd11"]}}}},
{"data": {"name": "dots"}, "mark": {"type": "square", "size": 5, "color": "#22cc22", "opacity": 1}, "encoding": {"x": {"field": "f", "type": "quantitative", "axis": null}, "y": {"field": "L", "type": "quantitative", "axis": null}}},
{"data": {"name": "logo"}, "mark": {"type": "point", "shape": "diamond", "size": 480, "color": "#e02828", "strokeWidth": 1.6, "opacity": 1}, "encoding": {"x": {"field": "f", "type": "quantitative", "axis": null}, "y": {"field": "L", "type": "quantitative", "axis": null}}},
{"data": {"name": "ylabels"}, "mark": {"type": "text", "align": "left", "baseline": "middle", "font": "Liberation Mono", "fontSize": 9.3, "color": "#111111"}, "encoding": {"x": {"datum": -2.437, "type": "quantitative", "axis": null}, "y": {"field": "L", "type": "quantitative", "axis": null}, "text": {"field": "lab"}}},
{"data": {"name": "notes"}, "transform": [{"filter": "(datum.p == 'all' || datum.p == 'BL') && indexof(['ink','cyan','red'], datum.kind) >= 0"}], "mark": {"type": "text", "align": "left", "baseline": "middle", "font": "Liberation Mono", "fontSize": 9.3}, "encoding": {"x": {"field": "f", "type": "quantitative", "axis": null}, "y": {"field": "L", "type": "quantitative", "axis": null}, "text": {"field": "text"}, "color": {"field": "kind", "type": "nominal", "legend": null, "scale": {"domain": ["ink","inkR","cyan","cyanR","red","green","white","boxBlue","boxGreen"], "range": ["#111111","#111111","#22a6b8","#22a6b8","#ff2020","#33cc33","#ffffff","#1a1aee","#11dd11"]}}}},
{"data": {"name": "notes"}, "transform": [{"filter": "(datum.p == 'all' || datum.p == 'BL') && indexof(['inkR','cyanR'], datum.kind) >= 0"}], "mark": {"type": "text", "align": "right", "baseline": "middle", "font": "Liberation Mono", "fontSize": 9.3}, "encoding": {"x": {"field": "f", "type": "quantitative", "axis": null}, "y": {"field": "L", "type": "quantitative", "axis": null}, "text": {"field": "text"}, "color": {"field": "kind", "type": "nominal", "legend": null, "scale": {"domain": ["ink","inkR","cyan","cyanR","red","green","white","boxBlue","boxGreen"], "range": ["#111111","#111111","#22a6b8","#22a6b8","#ff2020","#33cc33","#ffffff","#1a1aee","#11dd11"]}}}},
{"data": {"name": "notes"}, "transform": [{"filter": "(datum.p == 'all' || datum.p == 'BL') && indexof(['green','white'], datum.kind) >= 0"}], "mark": {"type": "text", "align": "left", "baseline": "middle", "font": "Liberation Mono", "fontSize": 7, "fontWeight": "bold"}, "encoding": {"x": {"field": "f", "type": "quantitative", "axis": null}, "y": {"field": "L", "type": "quantitative", "axis": null}, "text": {"field": "text"}, "color": {"field": "kind", "type": "nominal", "legend": null, "scale": {"domain": ["ink","inkR","cyan","cyanR","red","green","white","boxBlue","boxGreen"], "range": ["#111111","#111111","#22a6b8","#22a6b8","#ff2020","#33cc33","#ffffff","#1a1aee","#11dd11"]}}}}
]},
{"width": 599, "height": 490, "layer": [
{"data": {"name": "vlines"}, "mark": {"type": "rule", "color": "#202020", "strokeWidth": 1}, "encoding": {"x": {"field": "f", "type": "quantitative", "scale": {"domain": [-3.0256, 3.63], "nice": false, "zero": false}, "axis": null}, "y": {"datum": -70, "type": "quantitative", "scale": {"domain": [-96.59, 46.10], "nice": false, "zero": false}, "axis": null}, "y2": {"datum": 30}}},
{"data": {"name": "hlines"}, "mark": {"type": "rule", "color": "#202020", "strokeWidth": 1}, "encoding": {"x": {"datum": -2.5, "type": "quantitative", "axis": null}, "x2": {"datum": 2.5}, "y": {"field": "L", "type": "quantitative", "axis": null}}},
{"data": {"values": [{}]}, "mark": {"type": "rect", "filled": false, "color": "#111111", "strokeWidth": 2}, "encoding": {"x": {"datum": -2.5, "type": "quantitative", "axis": null}, "x2": {"datum": 2.5}, "y": {"datum": -70, "type": "quantitative", "axis": null}, "y2": {"datum": 30}}},
{"data": {"name": "limit"}, "mark": {"type": "rule", "color": "#ff2020", "strokeWidth": 1.2}, "encoding": {"x": {"field": "f", "type": "quantitative", "axis": null}, "x2": {"field": "f2"}, "y": {"datum": -13, "type": "quantitative", "axis": null}}},
{"data": {"name": "traces"}, "transform": [{"filter": "datum.p == 'BR'"}], "mark": {"type": "line", "color": "#1f1fff", "strokeWidth": 1}, "encoding": {"x": {"field": "f", "type": "quantitative", "axis": null}, "y": {"field": "L", "type": "quantitative", "axis": null}}},
{"data": {"name": "markers"}, "transform": [{"filter": "datum.p == 'BR'"}], "mark": {"type": "point", "shape": "triangle-down", "filled": true, "opacity": 1, "color": "#22a6b8", "size": 24, "yOffset": -4}, "encoding": {"x": {"field": "f", "type": "quantitative", "axis": null}, "y": {"field": "L", "type": "quantitative", "axis": null}}},
{"data": {"name": "markers"}, "transform": [{"filter": "datum.p == 'BR'"}], "mark": {"type": "text", "text": "1", "dy": -12, "color": "#22a6b8", "font": "Liberation Mono", "fontSize": 8}, "encoding": {"x": {"field": "f", "type": "quantitative", "axis": null}, "y": {"field": "L", "type": "quantitative", "axis": null}}},
{"data": {"name": "boxes"}, "mark": {"type": "rect"}, "encoding": {"x": {"field": "f", "type": "quantitative", "axis": null}, "x2": {"field": "f2"}, "y": {"field": "L", "type": "quantitative", "axis": null}, "y2": {"field": "L2"}, "color": {"field": "kind", "type": "nominal", "legend": null, "scale": {"domain": ["ink","inkR","cyan","cyanR","red","green","white","boxBlue","boxGreen"], "range": ["#111111","#111111","#22a6b8","#22a6b8","#ff2020","#33cc33","#ffffff","#1a1aee","#11dd11"]}}}},
{"data": {"name": "dots"}, "mark": {"type": "square", "size": 5, "color": "#22cc22", "opacity": 1}, "encoding": {"x": {"field": "f", "type": "quantitative", "axis": null}, "y": {"field": "L", "type": "quantitative", "axis": null}}},
{"data": {"name": "logo"}, "mark": {"type": "point", "shape": "diamond", "size": 480, "color": "#e02828", "strokeWidth": 1.6, "opacity": 1}, "encoding": {"x": {"field": "f", "type": "quantitative", "axis": null}, "y": {"field": "L", "type": "quantitative", "axis": null}}},
{"data": {"name": "ylabels"}, "mark": {"type": "text", "align": "left", "baseline": "middle", "font": "Liberation Mono", "fontSize": 9.3, "color": "#111111"}, "encoding": {"x": {"datum": -2.437, "type": "quantitative", "axis": null}, "y": {"field": "L", "type": "quantitative", "axis": null}, "text": {"field": "lab"}}},
{"data": {"name": "notes"}, "transform": [{"filter": "(datum.p == 'all' || datum.p == 'BR') && indexof(['ink','cyan','red'], datum.kind) >= 0"}], "mark": {"type": "text", "align": "left", "baseline": "middle", "font": "Liberation Mono", "fontSize": 9.3}, "encoding": {"x": {"field": "f", "type": "quantitative", "axis": null}, "y": {"field": "L", "type": "quantitative", "axis": null}, "text": {"field": "text"}, "color": {"field": "kind", "type": "nominal", "legend": null, "scale": {"domain": ["ink","inkR","cyan","cyanR","red","green","white","boxBlue","boxGreen"], "range": ["#111111","#111111","#22a6b8","#22a6b8","#ff2020","#33cc33","#ffffff","#1a1aee","#11dd11"]}}}},
{"data": {"name": "notes"}, "transform": [{"filter": "(datum.p == 'all' || datum.p == 'BR') && indexof(['inkR','cyanR'], datum.kind) >= 0"}], "mark": {"type": "text", "align": "right", "baseline": "middle", "font": "Liberation Mono", "fontSize": 9.3}, "encoding": {"x": {"field": "f", "type": "quantitative", "axis": null}, "y": {"field": "L", "type": "quantitative", "axis": null}, "text": {"field": "text"}, "color": {"field": "kind", "type": "nominal", "legend": null, "scale": {"domain": ["ink","inkR","cyan","cyanR","red","green","white","boxBlue","boxGreen"], "range": ["#111111","#111111","#22a6b8","#22a6b8","#ff2020","#33cc33","#ffffff","#1a1aee","#11dd11"]}}}},
{"data": {"name": "notes"}, "transform": [{"filter": "(datum.p == 'all' || datum.p == 'BR') && indexof(['green','white'], datum.kind) >= 0"}], "mark": {"type": "text", "align": "left", "baseline": "middle", "font": "Liberation Mono", "fontSize": 7, "fontWeight": "bold"}, "encoding": {"x": {"field": "f", "type": "quantitative", "axis": null}, "y": {"field": "L", "type": "quantitative", "axis": null}, "text": {"field": "text"}, "color": {"field": "kind", "type": "nominal", "legend": null, "scale": {"domain": ["ink","inkR","cyan","cyanR","red","green","white","boxBlue","boxGreen"], "range": ["#111111","#111111","#22a6b8","#22a6b8","#ff2020","#33cc33","#ffffff","#1a1aee","#11dd11"]}}}}
]}
],
"columns": 2,
"spacing": 0,
"bounds": "flush",
"align": "each",
"resolve": {"scale": {"x": "independent", "y": "independent", "color": "independent"}}
}
